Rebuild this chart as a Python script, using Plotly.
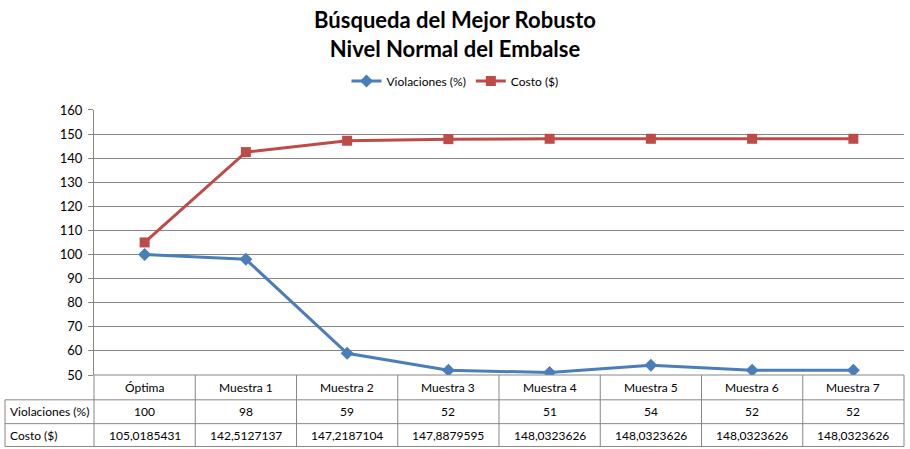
import plotly.graph_objects as go

categories = ["Óptima", "Muestra 1", "Muestra 2", "Muestra 3", "Muestra 4", "Muestra 5", "Muestra 6", "Muestra 7"]
violaciones = [100, 98, 59, 52, 51, 54, 52, 52]
costo = [105.0185431, 142.5127137, 147.2187104, 147.8879595, 148.0323626, 148.0323626, 148.0323626, 148.0323626]
series_names = ["Violaciones (%)", "Costo ($)"]
y_ticks = [50, 60, 70, 80, 90, 100, 110, 120, 130, 140, 150, 160]

W, H = 910, 449
L, R, T, B = 94, 6, 108, 74
PW, PH = W - L - R, H - T - B

BLUE = "#4A7EBB"
RED = "#BE4B48"
GRID = "#878787"
FONT = "Lato"


def px_y(y):
    return (H - B - y) / PH


def px_x(x):
    return (x - L) / PW


fig = go.Figure()
fig.add_trace(go.Scatter(x=categories, y=violaciones, name=series_names[0], mode="lines+markers",
                         line=dict(color=BLUE, width=3), marker=dict(symbol="diamond", size=10, color=BLUE)))
fig.add_trace(go.Scatter(x=categories, y=costo, name=series_names[1], mode="lines+markers",
                         line=dict(color=RED, width=3), marker=dict(symbol="square", size=10, color=RED)))

shapes = []
ann = []
line_style = dict(color=GRID, width=1)
for yy in [400, 424, 447]:
    shapes.append(dict(type="line", xref="paper", yref="paper", x0=px_x(5), x1=1, y0=px_y(yy), y1=px_y(yy), line=line_style))
shapes.append(dict(type="line", xref="paper", yref="paper", x0=0, x1=1, y0=0, y1=0, line=line_style))
shapes.append(dict(type="line", xref="paper", yref="paper", x0=px_x(5), x1=px_x(5), y0=px_y(400), y1=px_y(447), line=line_style))
n = len(categories)
for i in range(n + 1):
    shapes.append(dict(type="line", xref="paper", yref="paper", x0=i / n, x1=i / n, y0=0, y1=px_y(447), line=line_style))

tfont = dict(family=FONT, size=12, color="black")
for i, c in enumerate(categories):
    ann.append(dict(x=c, xref="x", y=px_y(388), yref="paper", text=c, showarrow=False, font=tfont, yanchor="middle"))
    ann.append(dict(x=c, xref="x", y=px_y(412), yref="paper", text=str(violaciones[i]), showarrow=False, font=tfont, yanchor="middle"))
    ann.append(dict(x=c, xref="x", y=px_y(435.5), yref="paper", text=f"{costo[i]:.7f}".replace(".", ","), showarrow=False, font=tfont, yanchor="middle"))
ann.append(dict(x=px_x(8), xref="paper", y=px_y(412), yref="paper", text=series_names[0], showarrow=False, font=tfont, xanchor="left", yanchor="middle"))
ann.append(dict(x=px_x(8), xref="paper", y=px_y(435.5), yref="paper", text=series_names[1], showarrow=False, font=tfont, xanchor="left", yanchor="middle"))

fig.update_layout(
    width=W, height=H,
    margin=dict(l=L, r=R, t=T, b=B),
    paper_bgcolor="white", plot_bgcolor="white",
    title=dict(text="<b>Búsqueda del Mejor Robusto<br>Nivel Normal del Embalse</b>",
               x=0.5, xref="container", xanchor="center", y=1 - 28 / H, yref="container", yanchor="middle",
               font=dict(family=FONT, size=22, color="black")),
    legend=dict(orientation="h", xref="container", yref="container", x=0.5, xanchor="center",
                y=1 - 81 / H, yanchor="middle", font=dict(family=FONT, size=12, color="black"),
                itemwidth=30, bgcolor="rgba(0,0,0,0)"),
    xaxis=dict(type="category", showticklabels=False, showgrid=False, zeroline=False, showline=False,
               range=[-0.5, n - 0.5], fixedrange=True),
    yaxis=dict(range=[50, 160], tickvals=y_ticks, showgrid=True, gridcolor=GRID, gridwidth=1,
               showline=True, linecolor=GRID, linewidth=1, ticks="outside", ticklen=5, tickcolor=GRID,
               zeroline=False, tickfont=dict(family=FONT, size=13, color="black"), ticklabelstandoff=3),
    shapes=shapes, annotations=ann,
)

fig.write_html("out.html")
